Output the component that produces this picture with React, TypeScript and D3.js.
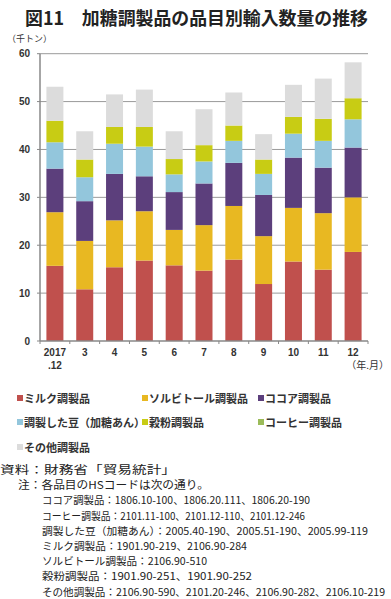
import React from "react";
import * as d3 from "d3";

const categories = ["2017\n.12", "3", "4", "5", "6", "7", "8", "9", "10", "11", "12"];
const seriesNames = ["ミルク調製品", "ソルビトール調製品", "ココア調製品", "調製した豆（加糖あん）", "穀粉調製品", "コーヒー調製品", "その他調製品"];
const seriesColors = ["#C0504D", "#E8B822", "#5C3F7C", "#93C6DC", "#C8CC14", "#9BBB59", "#DCDCDC"];

const milk = [15.7, 10.8, 15.4, 16.8, 15.8, 14.7, 17.0, 11.9, 16.6, 14.9, 18.6];
const sorbitol = [11.2, 10.1, 9.8, 10.3, 7.4, 9.5, 11.2, 10.0, 11.2, 11.8, 11.4];
const cocoa = [9.1, 8.3, 9.7, 7.3, 7.9, 8.7, 9.0, 8.6, 10.5, 9.5, 10.4];
const beans = [5.5, 5.0, 6.3, 6.2, 3.7, 4.6, 4.6, 4.4, 5.0, 5.6, 5.9];
const grain = [4.5, 3.7, 3.5, 4.1, 3.2, 3.4, 3.2, 3.0, 3.5, 4.6, 4.4];
const coffee = [0, 0, 0, 0, 0, 0, 0, 0, 0, 0, 0];
const other = [7.1, 5.9, 6.8, 7.8, 5.8, 7.5, 6.9, 5.3, 6.7, 8.4, 7.5];

const yTicks = [0, 10, 20, 30, 40, 50, 60];

const notes = [
  { x: 0, w: 176, f: 11, t: "資料：財務省「貿易統計」" },
  { x: 18, w: 191, f: 11, t: "注：各品目のHSコードは次の通り。" },
  { x: 42, w: 268, f: 10.6, t: "ココア調製品：1806.10-100、1806.20.111、1806.20-190" },
  { x: 42, w: 263, f: 10.6, t: "コーヒー調製品：2101.11-100、2101.12-110、2101.12-246" },
  { x: 42, w: 326, f: 10.6, t: "調製した豆（加糖あん）：2005.40-190、2005.51-190、2005.99-119" },
  { x: 42, w: 205, f: 10.6, t: "ミルク調製品：1901.90-219、2106.90-284" },
  { x: 42, w: 165, f: 10.6, t: "ソルビトール調製品：2106.90-510" },
  { x: 42, w: 210, f: 10.6, t: "穀粉調製品：1901.90-251、1901.90-252" },
  { x: 42, w: 343, f: 10.1, t: "その他調製品：2106.90-590、2101.20-246、2106.90-282、2106.10-219" },
];

export default function App() {
  const W = 391, H = 599;
  const left = 40, right = 368, top = 53.7, bottom = 341;
  const x = d3.scaleBand<number>().domain(d3.range(categories.length)).range([left, right]).paddingInner(0.43).paddingOuter(0.215);
  const xb = d3.scaleBand<number>().domain(d3.range(categories.length)).range([left, right]);
  const y = d3.scaleLinear().domain([0, 60]).range([bottom, top]);
  const data = categories.map((_, i) => ({
    s0: milk[i], s1: sorbitol[i], s2: cocoa[i], s3: beans[i], s4: grain[i], s5: coffee[i], s6: other[i],
  }));
  const stack = d3.stack<any>().keys(["s0", "s1", "s2", "s3", "s4", "s5", "s6"])(data);
  const font = "'Liberation Sans', Arial, 'Noto Sans CJK JP', sans-serif";
  const jfont = "'Noto Sans CJK JP', sans-serif";
  const legendPos = [
    [17, 399], [142, 399], [258, 399],
    [17, 423], [142, 423], [258, 423],
    [17, 448],
  ];
  return (
    <svg width={W} height={H} style={{ position: "absolute", left: 0, top: 0, background: "#fff" }}>
      <text x={25} y={25} fontFamily={jfont} fontWeight="bold" fontSize={18} fill="#222" textLength={343} lengthAdjust="spacingAndGlyphs">図11　加糖調製品の品目別輸入数量の推移</text>
      <text x={7} y={42} fontFamily={jfont} fontSize={9} fill="#333">（千トン）</text>
      {yTicks.map((t) => (
        <g key={t}>
          {t > 0 && <line x1={left} x2={right} y1={y(t)} y2={y(t)} stroke="#9a9a9a" strokeWidth={1} />}
          <line x1={left - 3} x2={left} y1={y(t)} y2={y(t)} stroke="#888" />
          <text x={30} y={y(t) + 3.5} textAnchor="end" fontFamily={font} fontWeight="bold" fontSize={10} fill="#333">{t}</text>
        </g>
      ))}
      {stack.map((layer, k) => (
        <g key={k} fill={seriesColors[k]}>
          {layer.map((d, i) => (
            d[1] - d[0] > 0 ? <rect key={i} x={x(i)} width={x.bandwidth()} y={y(d[1])} height={y(d[0]) - y(d[1])} /> : null
          ))}
        </g>
      ))}
      <line x1={left} x2={left} y1={top} y2={bottom} stroke="#888" strokeWidth={1.5} />
      <line x1={left} x2={right} y1={bottom} y2={bottom} stroke="#888" strokeWidth={1.5} />
      {d3.range(categories.length + 1).map((i) => {
        const xx = i < categories.length ? (xb(i) as number) : right;
        return <line key={i} x1={xx} x2={xx} y1={bottom} y2={bottom + 3} stroke="#888" />;
      })}
      {categories.map((c, i) => {
        const parts = c.split("\n");
        const cx = (x(i) as number) + x.bandwidth() / 2;
        return (
          <g key={i}>
            {parts.map((p, j) => (
              <text key={j} x={cx} y={356 + j * 13} textAnchor="middle" fontFamily={font} fontWeight="bold" fontSize={10} fill="#333">{p}</text>
            ))}
          </g>
        );
      })}
      <text x={389} y={369} textAnchor="end" fontFamily={jfont} fontSize={10} fill="#333">（年.月）</text>
      {seriesNames.map((n, k) => (
        <g key={k}>
          <rect x={legendPos[k][0]} y={legendPos[k][1] - 4} width={6} height={6} fill={seriesColors[k]} />
          <text x={legendPos[k][0] + 7} y={legendPos[k][1] + 4} fontFamily={jfont} fontWeight="bold" fontSize={11} fill="#333">{n}</text>
        </g>
      ))}
      {notes.map((n, i) => (
        <text key={i} x={n.x} y={474 + i * 15.2} fontFamily={jfont} fontSize={n.f} fill="#222" textLength={n.w} lengthAdjust="spacingAndGlyphs">{n.t}</text>
      ))}
    </svg>
  );
}
